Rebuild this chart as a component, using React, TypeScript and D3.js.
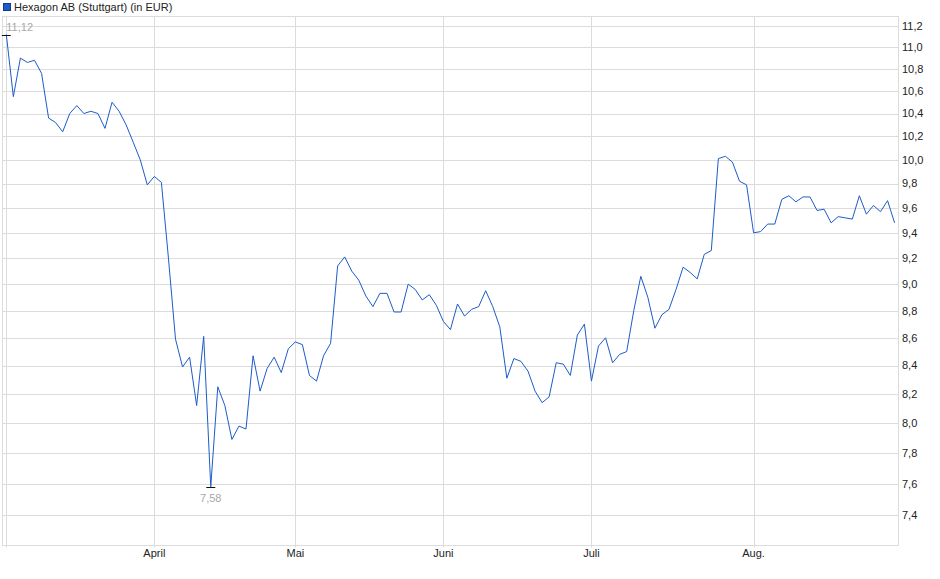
import * as d3 from 'd3';

// Hexagon AB (Stuttgart), closing prices per trading day, March–August
const prices: number[] = [
  11.12, 10.55, 10.9, 10.86, 10.88, 10.76, 10.36, 10.32, 10.24, 10.4,
  10.47, 10.4, 10.42, 10.4, 10.27, 10.5, 10.42, 10.3, 10.15, 10.0,
  9.79, 9.86, 9.81, 9.2, 8.59, 8.39, 8.46, 8.12, 8.61, 7.58,
  8.25, 8.12, 7.89, 7.98, 7.96, 8.47, 8.22, 8.38, 8.46, 8.35,
  8.52, 8.57, 8.55, 8.33, 8.29, 8.47, 8.56, 9.14, 9.21, 9.1,
  9.03, 8.91, 8.83, 8.93, 8.93, 8.79, 8.79, 9.0, 8.96, 8.88,
  8.92, 8.84, 8.72, 8.66, 8.85, 8.76, 8.81, 8.83, 8.95, 8.83,
  8.68, 8.31, 8.45, 8.43, 8.36, 8.22, 8.14, 8.18, 8.42, 8.41,
  8.33, 8.62, 8.7, 8.29, 8.54, 8.6, 8.42, 8.48, 8.5, 8.8,
  9.06, 8.9, 8.67, 8.77, 8.81, 8.96, 9.13, 9.09, 9.04, 9.23,
  9.26, 10.01, 10.03, 9.98, 9.82, 9.79, 9.4, 9.41, 9.47, 9.47,
  9.67, 9.7, 9.65, 9.69, 9.69, 9.58, 9.59, 9.48, 9.53, 9.52,
  9.51, 9.7, 9.55, 9.62, 9.57, 9.66, 9.48,
];

// first trading day of each month (index into prices)
const monthStarts: number[] = [0, 21, 41, 62, 83, 106];
const monthLabels: string[] = ['', 'April', 'Mai', 'Juni', 'Juli', 'Aug.'];

const yTicks: number[] = [
  7.4, 7.6, 7.8, 8.0, 8.2, 8.4, 8.6, 8.8, 9.0, 9.2, 9.4, 9.6, 9.8, 10.0,
  10.2, 10.4, 10.6, 10.8, 11.0, 11.2,
];

const seriesName = 'Hexagon AB (Stuttgart) (in EUR)';

const width = 940;
const height = 579;
const plot = { left: 2.5, right: 898.5, top: 16.5, bottom: 545.5 };

const font = '"Liberation Sans", Arial, sans-serif';
const lineColor = '#1c5cc8';
const gridColor = '#dcdcdc';

const fmt = (v: number, digits: number) => v.toFixed(digits).replace('.', ',');

export default function App() {
  const x = d3.scaleLinear().domain([0, prices.length - 1]).range([6.3, 894.6]);
  const y = d3.scaleLog().domain([7.215, 11.296]).range([545, 16]);

  const line = d3
    .line<number>()
    .x((_, i) => x(i))
    .y(d => y(d));

  const maxIdx = d3.maxIndex(prices);
  const minIdx = d3.minIndex(prices);
  const crisp = (v: number) => Math.round(v) + 0.5;

  return (
    <svg
      width={width}
      height={height}
      style={{ position: 'absolute', left: 0, top: 0, background: '#fff' }}
      fontFamily={font}
    >
      {/* legend */}
      <rect x={3.5} y={3.5} width={7} height={7} fill={lineColor} stroke="#0d3a8a" />
      <text x={14} y={11} fontSize={11} fill="#222">
        {seriesName}
      </text>

      {/* horizontal grid + right axis labels */}
      {yTicks.map(t => (
        <g key={t}>
          <line
            x1={plot.left}
            x2={plot.right}
            y1={crisp(y(t))}
            y2={crisp(y(t))}
            stroke={gridColor}
          />
          <text x={902} y={y(t)} dy="0.35em" fontSize={11} fill="#222">
            {fmt(t, 1)}
          </text>
        </g>
      ))}

      {/* vertical month grid + labels */}
      {monthStarts.map((m, i) => (
        <g key={m}>
          <line
            x1={crisp(x(m))}
            x2={crisp(x(m))}
            y1={plot.top}
            y2={plot.bottom + 2}
            stroke={gridColor}
          />
          <text x={x(m)} y={557} textAnchor="middle" fontSize={11} fill="#222">
            {monthLabels[i]}
          </text>
        </g>
      ))}

      {/* frame */}
      <rect
        x={plot.left}
        y={plot.top}
        width={plot.right - plot.left}
        height={plot.bottom - plot.top}
        fill="none"
        stroke={gridColor}
      />

      {/* price line */}
      <path d={line(prices) || ''} fill="none" stroke={lineColor} strokeWidth={1} />

      {/* high marker */}
      <line
        x1={x(maxIdx) - 4.5}
        x2={x(maxIdx) + 4.5}
        y1={crisp(y(prices[maxIdx]))}
        y2={crisp(y(prices[maxIdx]))}
        stroke="#111"
      />
      <text x={x(maxIdx)} y={y(prices[maxIdx]) - 3.5} fontSize={11} fill="#a8a8a8">
        {fmt(prices[maxIdx], 2)}
      </text>

      {/* low marker */}
      <line
        x1={x(minIdx) - 4.5}
        x2={x(minIdx) + 4.5}
        y1={crisp(y(prices[minIdx]))}
        y2={crisp(y(prices[minIdx]))}
        stroke="#111"
      />
      <text
        x={x(minIdx)}
        y={y(prices[minIdx]) + 15.5}
        textAnchor="middle"
        fontSize={11}
        fill="#a8a8a8"
      >
        {fmt(prices[minIdx], 2)}
      </text>
    </svg>
  );
}
